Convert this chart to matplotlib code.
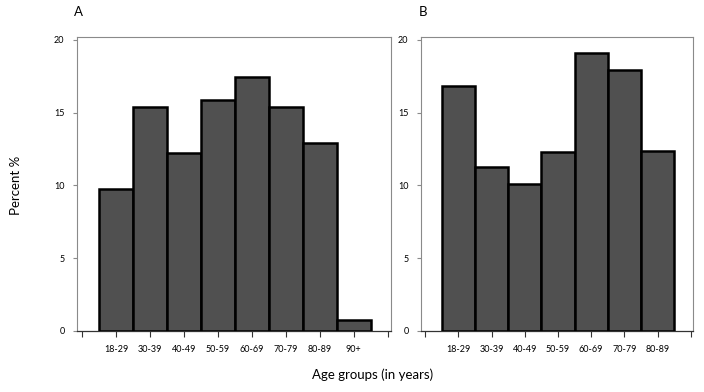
import matplotlib
matplotlib.use("Agg")
import matplotlib.pyplot as plt

# Panel A: age distribution (percent)
groups_a = ["18-29", "30-39", "40-49", "50-59", "60-69", "70-79", "80-89", "90+"]
percent_a = [9.75, 15.4, 12.2, 15.85, 17.45, 15.4, 12.95, 0.75]

# Panel B
groups_b = ["18-29", "30-39", "40-49", "50-59", "60-69", "70-79", "80-89"]
percent_b = [16.85, 11.25, 10.1, 12.3, 19.1, 17.95, 12.35]

plt.rcParams["font.family"] = ["Lato", "DejaVu Sans"]

BAR_COLOR = "#505050"
FRAME_COLOR = "#8a8a8a"


def draw_panel(ax, groups, values, letter):
    n = len(groups)
    pos = list(range(1, n + 1))
    ax.bar(pos, values, width=1.0, color=BAR_COLOR, edgecolor="black",
           linewidth=1.8, zorder=3)
    ax.set_xlim(-0.15, n + 1.1)
    ax.set_ylim(0, 20.2)
    ax.set_xticks(range(0, n + 2))
    ax.set_xticklabels([""] + groups + [""], fontsize=6.5)
    ax.set_yticks([0, 5, 10, 15, 20])
    ax.tick_params(axis="y", labelsize=6.5, length=3, color=FRAME_COLOR,
                   direction="out", pad=6)
    ax.tick_params(axis="x", length=4, color="#333333", direction="out", pad=6)
    for side in ["top", "right", "left"]:
        ax.spines[side].set_color(FRAME_COLOR)
        ax.spines[side].set_linewidth(0.8)
    ax.spines["bottom"].set_color("#333333")
    ax.spines["bottom"].set_linewidth(0.9)
    ax.text(-0.01, 1.065, letter, transform=ax.transAxes, fontsize=9.5,
            ha="left", va="bottom")


fig = plt.figure(figsize=(7.04, 3.92), dpi=100)
ax_a = fig.add_axes([77 / 704, 1 - 331 / 392, (391 - 77) / 704, (331 - 37) / 392])
ax_b = fig.add_axes([421 / 704, 1 - 331 / 392, (693 - 421) / 704, (331 - 37) / 392])

draw_panel(ax_a, groups_a, percent_a, "A")
ax_a.set_xlim(-0.15, 9.1)
draw_panel(ax_b, groups_b, percent_b, "B")
ax_b.set_xlim(-0.13, 8.07)

fig.text(16 / 704, 1 - 185 / 392, "Percent %", rotation=90, fontsize=9.5,
         ha="center", va="center")
fig.text(373 / 704, 1 - 375 / 392, "Age groups (in years)", fontsize=9.5,
         ha="center", va="center")

fig.savefig("out.png", dpi=100)
